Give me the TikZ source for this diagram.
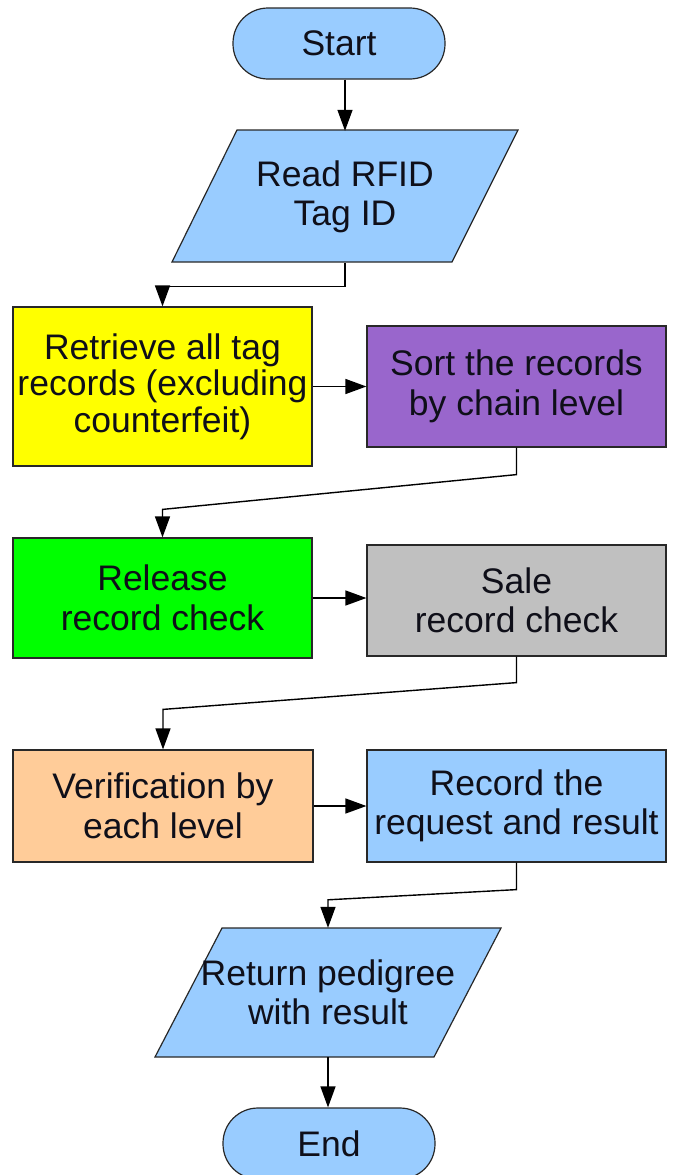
\documentclass[tikz,border=0pt]{standalone}
\usepackage{fontspec}
\setmainfont{Liberation Sans}
\usetikzlibrary{arrows.meta,calc}

\definecolor{skyfill}{RGB}{153,204,255}
\definecolor{yellowfill}{RGB}{255,255,0}
\definecolor{violetfill}{RGB}{153,102,204}
\definecolor{limefill}{RGB}{0,255,0}
\definecolor{silverfill}{RGB}{192,192,192}
\definecolor{peachfill}{RGB}{255,204,153}
\definecolor{edge}{RGB}{40,40,40}
\definecolor{ink}{RGB}{15,15,25}

\tikzset{
  every node/.style={font=\fontsize{35.5}{39.5}\selectfont, text=ink, align=center, inner sep=0pt},
  procbox/.style={draw=edge, line width=1.2pt, minimum width=299pt},
  termbox/.style={draw=edge, line width=1.2pt, fill=skyfill, rounded corners=35pt,
                  minimum width=212pt, minimum height=71pt},
  iobox/.style={minimum width=346pt},
  ioshape/.style={draw=edge, line width=1.2pt, fill=skyfill},
  flow/.style={draw=black, line width=1.4pt, -{Triangle[length=21pt,width=15pt]}},
}

\begin{document}
\begin{tikzpicture}[x=1pt,y=-1pt]
\useasboundingbox (0,0) rectangle (675,1175);
\clip (0,0) rectangle (675,1175);

% start / end terminals
\node[termbox] (start) at (339,43.5) {Start};
\node[termbox] (finish) at (329,1143.5) {End};

% input / output parallelograms (outline drawn first, text node on top)
\path[ioshape] (237,130) -- (518,130) -- (452,262) -- (172,262) -- cycle;
\node[iobox, minimum height=132pt] (read) at (345,197) {Read RFID\\Tag ID};

\path[ioshape] (222,928) -- (501,928) -- (434,1057) -- (155,1057) -- cycle;
\node[iobox, minimum height=129pt] (return) at (328,992.5) {Return pedigree\\with result};

% process boxes
\node[procbox, fill=yellowfill, minimum height=159pt,
      font=\fontsize{35.5}{36.5}\selectfont] (retrieve) at (162.5,386.5)
  {Retrieve all tag\\records (excluding\\counterfeit)};
\node[procbox, fill=violetfill, minimum height=121pt] (sort) at (516.5,386.5)
  {Sort the records\\by chain level};
\node[procbox, fill=limefill, minimum height=120pt] (release) at (162.5,598)
  {Release\\record check};
\node[procbox, fill=silverfill, minimum height=111pt] (sale) at (516.5,600.5)
  {Sale\\record check};
\node[procbox, fill=peachfill, minimum height=112pt, minimum width=300pt] (verify) at (163,806)
  {Verification by\\each level};
\node[procbox, fill=skyfill, minimum height=112pt] (recordres) at (516.5,806)
  {Record the\\request and result};

% connectors
\draw[flow] (start.south -| read.north) -- (read.north);
\draw[flow] (read.south) -- ++(0,23) -| (retrieve.north);
\draw[flow] (retrieve.east) -- (retrieve.east -| sort.west);
\draw[flow] (sort.south) -- ++(0,27) -- ($(release.north)+(0,-28)$) -- (release.north);
\draw[flow] (release.east) -- (release.east -| sale.west);
\draw[flow] (sale.south) -- ++(0,26) -- ($(verify.north)+(0,-40)$) -- (verify.north);
\draw[flow] (verify.east) -- (verify.east -| recordres.west);
\draw[flow] (recordres.south) -- ++(0,27) -- ($(return.north)+(0,-28)$) -- (return.north);
\draw[flow] (return.south) -- (return.south |- finish.north);
\end{tikzpicture}
\end{document}
